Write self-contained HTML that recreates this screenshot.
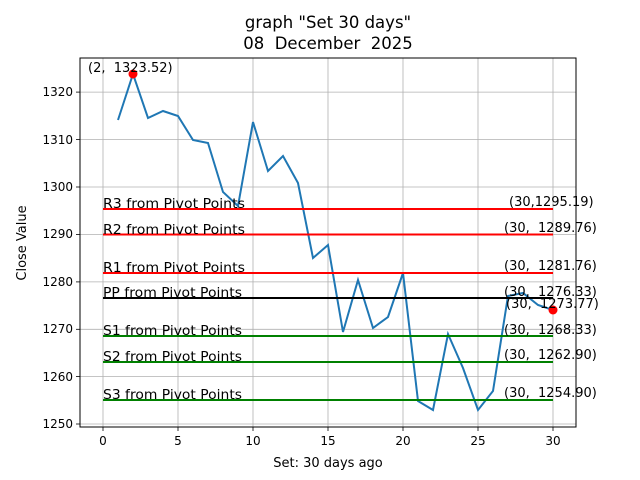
<!DOCTYPE html>
<html><head><meta charset="utf-8"><style>body{margin:0;background:#fff}svg{display:block}text{font-family:"DejaVu Sans","Liberation Sans",sans-serif;fill:#000;white-space:pre}</style></head><body>
<svg width="640" height="480" viewBox="0 0 640 480" xmlns="http://www.w3.org/2000/svg">
<rect width="640" height="480" fill="#fff"/>
<g stroke="#b0b0b0" stroke-width="0.8">
<line x1="103" y1="58" x2="103" y2="427"/><line x1="178" y1="58" x2="178" y2="427"/><line x1="253" y1="58" x2="253" y2="427"/><line x1="328" y1="58" x2="328" y2="427"/><line x1="403" y1="58" x2="403" y2="427"/><line x1="478" y1="58" x2="478" y2="427"/><line x1="553" y1="58" x2="553" y2="427"/>
<line x1="80" y1="424" x2="576" y2="424"/><line x1="80" y1="376.6" x2="576" y2="376.6"/><line x1="80" y1="329.3" x2="576" y2="329.3"/><line x1="80" y1="281.9" x2="576" y2="281.9"/><line x1="80" y1="234.4" x2="576" y2="234.4"/><line x1="80" y1="187" x2="576" y2="187"/><line x1="80" y1="139.6" x2="576" y2="139.6"/><line x1="80" y1="92.1" x2="576" y2="92.1"/>
</g>
<polyline fill="none" stroke="#1f77b4" stroke-width="2" points="118,120 133,74 148,118 163,111 178,116 193,140 208,143 223,192 238,206 253,122 268,171 283,156 298,183 313,258 328,245 343,332 358,280 373,328 388,317 403,273 418,401 433,410 448,334 463,368 478,410 493,391 508,296 523,293 538,305 553,310"/>
<g stroke-width="2">
<line x1="103" y1="209" x2="553" y2="209" stroke="red"/>
<line x1="103" y1="234.5" x2="553" y2="234.5" stroke="red"/>
<line x1="103" y1="273" x2="553" y2="273" stroke="red"/>
<line x1="103" y1="298" x2="553" y2="298" stroke="#000"/>
<line x1="103" y1="336" x2="553" y2="336" stroke="green"/>
<line x1="103" y1="362" x2="553" y2="362" stroke="green"/>
<line x1="103" y1="400" x2="553" y2="400" stroke="green"/>
</g>
<circle cx="133" cy="74" r="4.5" fill="red"/><circle cx="553" cy="310" r="4.5" fill="red"/>
<rect x="80" y="58" width="496" height="369" fill="none" stroke="#000" stroke-width="1"/>
<g font-size="13">
<text x="103" y="208" textLength="142" lengthAdjust="spacingAndGlyphs">R3 from Pivot Points</text>
<text x="103" y="234" textLength="142" lengthAdjust="spacingAndGlyphs">R2 from Pivot Points</text>
<text x="103" y="272" textLength="142" lengthAdjust="spacingAndGlyphs">R1 from Pivot Points</text>
<text x="103" y="297" textLength="139" lengthAdjust="spacingAndGlyphs">PP from Pivot Points</text>
<text x="103" y="335" textLength="139" lengthAdjust="spacingAndGlyphs">S1 from Pivot Points</text>
<text x="103" y="361" textLength="139" lengthAdjust="spacingAndGlyphs">S2 from Pivot Points</text>
<text x="103" y="399" textLength="139" lengthAdjust="spacingAndGlyphs">S3 from Pivot Points</text>
<text x="509" y="206">(30,1295.19)</text>
<text x="504" y="232">(30,&#160; 1289.76)</text>
<text x="504" y="270">(30,&#160; 1281.76)</text>
<text x="504" y="296">(30,&#160; 1276.33)</text>
<text x="506" y="308">(30,&#160; 1273.77)</text>
<text x="504" y="334">(30,&#160; 1268.33)</text>
<text x="504" y="359">(30,&#160; 1262.90)</text>
<text x="504" y="397">(30,&#160; 1254.90)</text>
<text x="88" y="72">(2,&#160; 1323.52)</text>
</g>
<g stroke="#000" stroke-width="0.8">
<line x1="103" y1="427" x2="103" y2="431"/><line x1="178" y1="427" x2="178" y2="431"/><line x1="253" y1="427" x2="253" y2="431"/><line x1="328" y1="427" x2="328" y2="431"/><line x1="403" y1="427" x2="403" y2="431"/><line x1="478" y1="427" x2="478" y2="431"/><line x1="553" y1="427" x2="553" y2="431"/>
<line x1="76" y1="424" x2="80" y2="424"/><line x1="76" y1="376.6" x2="80" y2="376.6"/><line x1="76" y1="329.3" x2="80" y2="329.3"/><line x1="76" y1="281.9" x2="80" y2="281.9"/><line x1="76" y1="234.4" x2="80" y2="234.4"/><line x1="76" y1="187" x2="80" y2="187"/><line x1="76" y1="139.6" x2="80" y2="139.6"/><line x1="76" y1="92.1" x2="80" y2="92.1"/>
</g>
<g font-size="12" text-anchor="middle">
<text x="103" y="445">0</text><text x="178" y="445">5</text><text x="253" y="445">10</text><text x="328" y="445">15</text><text x="403" y="445">20</text><text x="478" y="445">25</text><text x="553" y="445">30</text>
</g>
<g font-size="12" text-anchor="end">
<text x="73" y="428">1250</text><text x="73" y="381">1260</text><text x="73" y="333">1270</text><text x="73" y="286">1280</text><text x="73" y="238">1290</text><text x="73" y="191">1300</text><text x="73" y="144">1310</text><text x="73" y="96">1320</text>
</g>
<text x="328" y="467" font-size="13" text-anchor="middle">Set: 30 days ago</text>
<text transform="translate(26,243) rotate(-90)" font-size="13" text-anchor="middle">Close Value</text>
<text x="328" y="28" font-size="16.5" text-anchor="middle">graph "Set 30 days"</text>
<text x="328" y="49" font-size="16.5" text-anchor="middle">08&#160; December&#160; 2025</text>
</svg>
</body></html>
